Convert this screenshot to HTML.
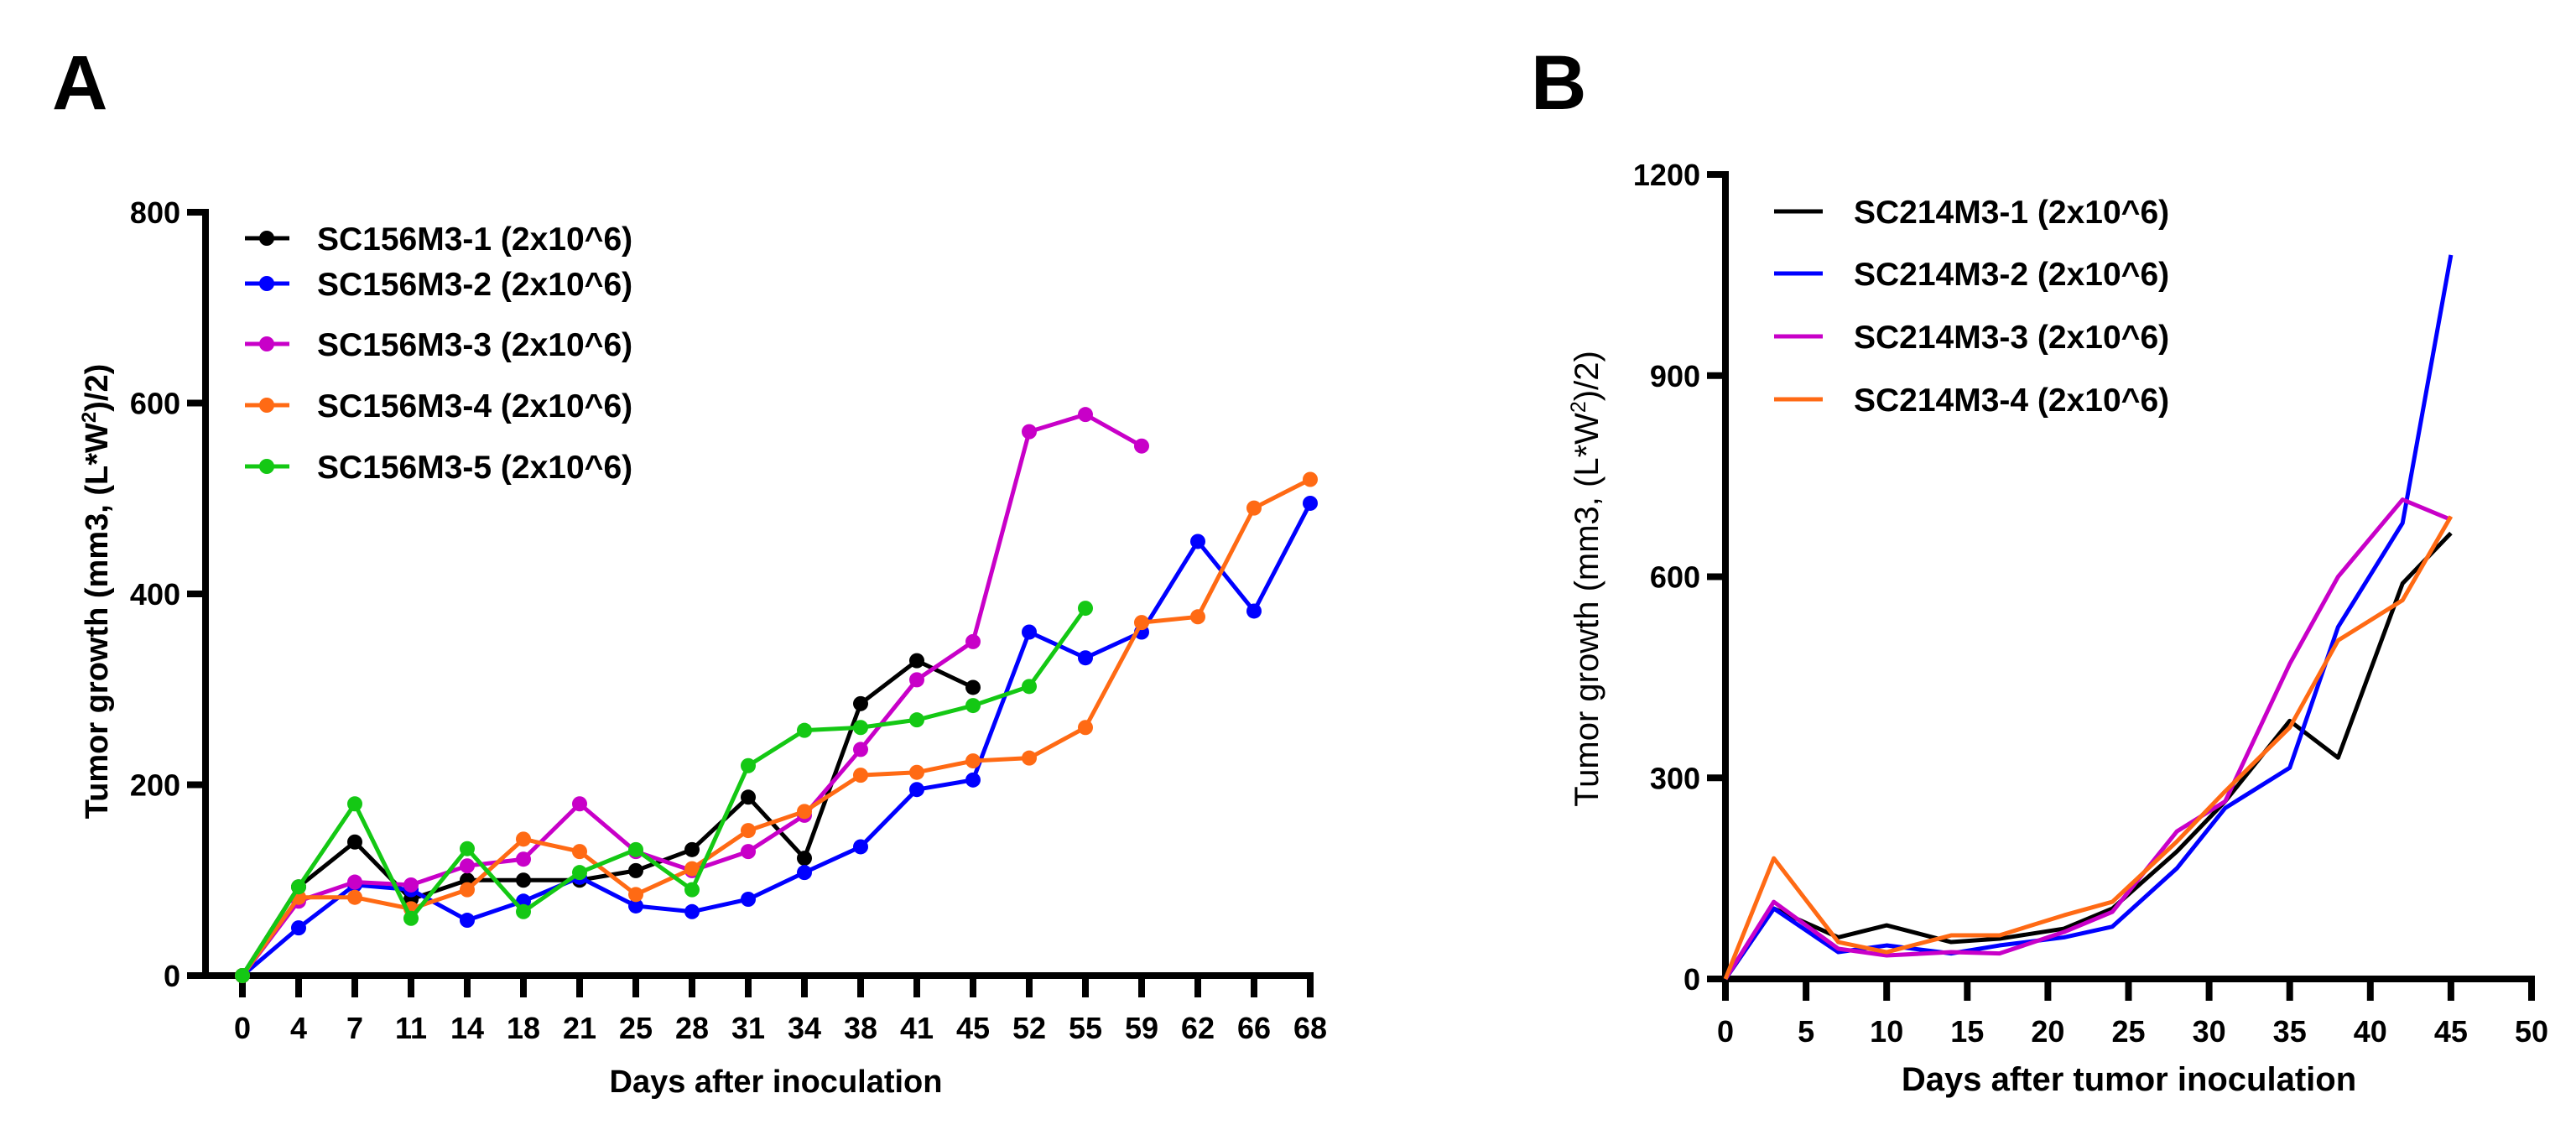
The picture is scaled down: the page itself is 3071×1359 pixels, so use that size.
<!DOCTYPE html>
<html><head><meta charset="utf-8">
<style>
html,body{margin:0;padding:0;background:#fff;}
svg{display:block;font-family:"Liberation Sans",Arial,sans-serif;font-weight:bold;}
</style></head>
<body>
<svg id="chart" width="3071" height="1359" viewBox="0 0 3071 1359" xmlns="http://www.w3.org/2000/svg">
<rect width="3071" height="1359" fill="#fff"/>
<text x="62" y="130" font-size="92">A</text>
<text x="1825" y="130" font-size="92">B</text>
<g id="pa"></g>
<g id="pb"></g>
</svg>
<script>
// Panel A data
const aCategories = ["0","4","7","11","14","18","21","25","28","31","34","38","41","45","52","55","59","62","66","68"];
const aYTicks = [0,200,400,600,800];
const aNames = ["SC156M3-1 (2x10^6)","SC156M3-2 (2x10^6)","SC156M3-3 (2x10^6)","SC156M3-4 (2x10^6)","SC156M3-5 (2x10^6)"];
const aS1 = [0,93,140,80,100,100,100,110,132,187,123,285,330,302];
const aS2 = [0,50,95,90,58,78,103,73,67,80,108,135,195,205,360,333,360,455,382,495];
const aS3 = [0,78,98,95,115,122,180,130,110,130,168,237,310,350,570,588,555];
const aS4 = [0,82,82,70,90,143,130,85,112,152,172,210,213,225,228,260,370,376,490,520];
const aS5 = [0,93,180,60,133,67,108,132,90,220,257,260,268,283,303,385];
// Panel B data
const bDays = [0,3,7,10,14,17,21,24,28,31,35,38,42,45];
const bXTicks = [0,5,10,15,20,25,30,35,40,45,50];
const bYTicks = [0,300,600,900,1200];
const bNames = ["SC214M3-1 (2x10^6)","SC214M3-2 (2x10^6)","SC214M3-3 (2x10^6)","SC214M3-4 (2x10^6)"];
const bS1 = [0,105,62,80,55,60,75,105,190,265,385,330,590,665];
const bS2 = [0,105,40,50,38,50,62,78,165,255,315,525,680,1080];
const bS3 = [0,115,45,35,40,38,70,100,220,265,470,600,715,685];
const bS4 = [0,180,55,40,65,65,95,115,205,280,375,505,565,690];

const NS="http://www.w3.org/2000/svg";
function mk(parent,tag,attrs,txt){const e=document.createElementNS(NS,tag);for(const k in attrs)e.setAttribute(k,attrs[k]);if(txt!==undefined)e.textContent=txt;parent.appendChild(e);return e;}
const colA=["#000000","#0000ff","#c800c8","#ff6a14","#14c814"];
const colB=["#000000","#0000ff","#c800c8","#ff6a14"];

// Panel A
(function(){
const g=document.getElementById('pa');
const ax=245, y0=1163, y800=253, xs0=289, dx=67;
const xA=i=>xs0+i*dx;
const yA=v=>y0-(v/800)*(y0-y800);
let e=mk(g,'line',{x1:ax,y1:y800-4,x2:ax,y2:y0+4,stroke:'#000','stroke-width':8});

e=mk(g,'line',{x1:ax-20,y1:y0,x2:xA(aCategories.length-1)+4,y2:y0,stroke:'#000','stroke-width':8});

aYTicks.forEach(t=>{
 let l=mk(g,'line',{x1:ax-22,y1:yA(t),x2:ax,y2:yA(t),stroke:'#000','stroke-width':8});
 
 let tx=mk(g,'text',{x:ax-30,y:yA(t)+13,'font-size':36,'text-anchor':'end'},t);
 
});
aCategories.forEach((c,i)=>{
 let l=mk(g,'line',{x1:xA(i),y1:y0,x2:xA(i),y2:y0+26,stroke:'#000','stroke-width':8});
 
 let tx=mk(g,'text',{x:xA(i),y:y0+75,'font-size':36,'text-anchor':'middle'},c);
 
});
let t=mk(g,'text',{x:925,y:1302,'font-size':38,'text-anchor':'middle'},'Days after inoculation');

t=mk(g,'text',{transform:'translate(128,705) rotate(-90)','font-size':38,'text-anchor':'middle'});

t.innerHTML='Tumor growth (mm3, (L*W<tspan font-size="24" dy="-14">2</tspan><tspan dy="14">)/2)</tspan>';
const series=[aS1,aS2,aS3,aS4,aS5];
series.forEach((s,k)=>{
 const pts=s.map((v,i)=>xA(i)+','+yA(v)).join(' ');
 let pl=mk(g,'polyline',{points:pts,fill:'none',stroke:colA[k],'stroke-width':5,'stroke-linejoin':'round'});
 
 s.forEach((v,i)=>{
  let c=mk(g,'circle',{cx:xA(i),cy:yA(v),r:9,fill:colA[k]});
  
 });
});
const rows=[284,338,410,483,556];
aNames.forEach((n,k)=>{
 let l=mk(g,'line',{x1:292,y1:rows[k],x2:345,y2:rows[k],stroke:colA[k],'stroke-width':5});
 
 let c=mk(g,'circle',{cx:318,cy:rows[k],r:9,fill:colA[k]});
 
 let tx=mk(g,'text',{x:378,y:rows[k]+14,'font-size':39},n);
 
});
})();

// Panel B
(function(){
const g=document.getElementById('pb');
const ax=2057, y0=1167, y1200=208, x50=3018;
const xB=d=>ax+(d/50)*(x50-ax);
const yB=v=>y0-(v/1200)*(y0-y1200);
let e=mk(g,'line',{x1:ax,y1:y1200-4,x2:ax,y2:y0+4,stroke:'#000','stroke-width':8});

e=mk(g,'line',{x1:ax-20,y1:y0,x2:x50+4,y2:y0,stroke:'#000','stroke-width':8});

bYTicks.forEach(t=>{
 let l=mk(g,'line',{x1:ax-22,y1:yB(t),x2:ax,y2:yB(t),stroke:'#000','stroke-width':8});
 
 let tx=mk(g,'text',{x:ax-30,y:yB(t)+13,'font-size':36,'text-anchor':'end'},t);
 
});
bXTicks.forEach(d=>{
 let l=mk(g,'line',{x1:xB(d),y1:y0,x2:xB(d),y2:y0+26,stroke:'#000','stroke-width':8});
 
 let tx=mk(g,'text',{x:xB(d),y:y0+75,'font-size':36,'text-anchor':'middle'},d);
 
});
let t=mk(g,'text',{x:2538,y:1300,'font-size':40,'text-anchor':'middle'},'Days after tumor inoculation');

t=mk(g,'text',{transform:'translate(1905,690) rotate(-90)','font-size':40,'text-anchor':'middle','font-weight':'normal'});

t.innerHTML='Tumor growth (mm3, (L*W<tspan font-size="25" dy="-15">2</tspan><tspan dy="15">)/2)</tspan>';
const series=[bS1,bS2,bS3,bS4];
series.forEach((s,k)=>{
 const pts=s.map((v,i)=>xB(bDays[i])+','+yB(v)).join(' ');
 let pl=mk(g,'polyline',{points:pts,fill:'none',stroke:colB[k],'stroke-width':5,'stroke-linejoin':'round'});
 
});
const rows=[252,326,401,476];
bNames.forEach((n,k)=>{
 let l=mk(g,'line',{x1:2115,y1:rows[k],x2:2173,y2:rows[k],stroke:colB[k],'stroke-width':5});
 
 let tx=mk(g,'text',{x:2210,y:rows[k]+14,'font-size':39},n);
 
});
})();
</script>
</body></html>
